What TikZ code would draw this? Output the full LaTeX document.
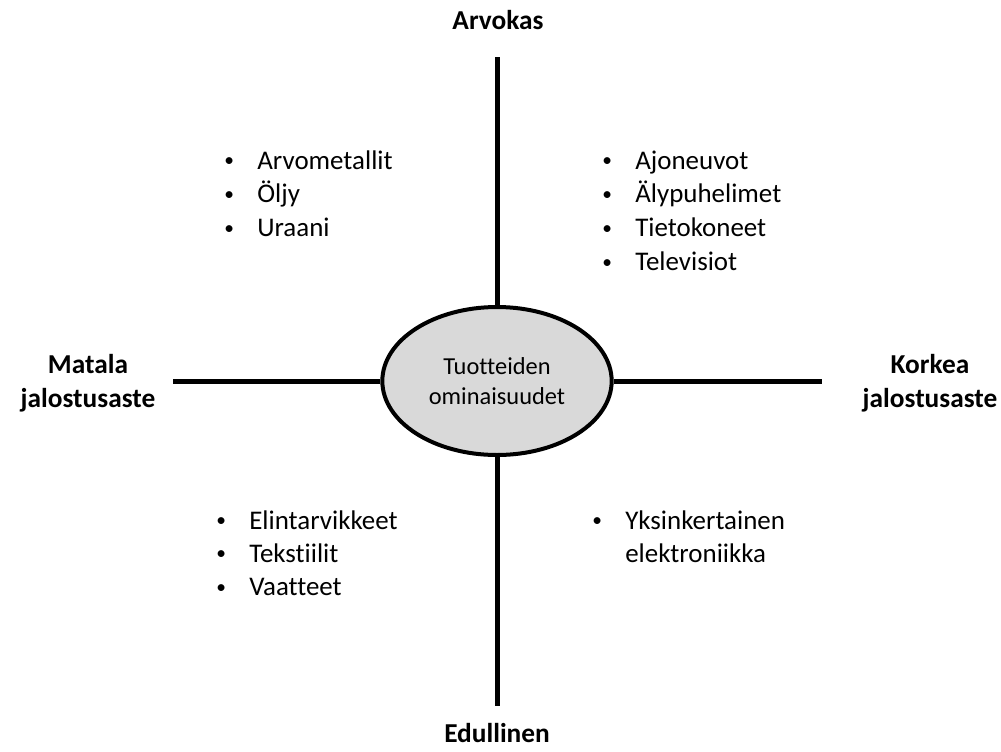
\documentclass[tikz,border=0pt]{standalone}
\usepackage{fontspec}
\setmainfont{Carlito}[Ligatures={NoCommon}]
\usetikzlibrary{shapes.geometric}
\definecolor{ellfill}{RGB}{217,217,217}
\newcommand{\bul}{\makebox[24.8pt][l]{\raisebox{1.8pt}{\scalebox{0.72}{•}}}}
\begin{document}
\begin{tikzpicture}[x=0.75pt,y=-0.75pt,
  axis/.style={line width=3.75pt},
  lbl/.style={font=\fontsize{20.5}{25.5}\selectfont\bfseries, align=center, inner sep=0},
  lst/.style={font=\fontsize{20.2}{25.4}\selectfont, inner sep=0, anchor=base west},
  lstb/.style={font=\fontsize{20.2}{25}\selectfont, inner sep=0, anchor=base west},
  hub/.style={ellipse, draw, line width=3pt, fill=ellfill, minimum width=172pt, minimum height=111pt, inner sep=0, align=center, font=\fontsize{18.3}{22.5}\selectfont}]
\useasboundingbox (0,0) rectangle (1001,751);
\fill[white] (0,0) rectangle (1001,751);
\coordinate (top) at (497,57);
\coordinate (bot) at (497,706);
\coordinate (lft) at (173,381);
\coordinate (rgt) at (822,381);
\node[hub] (c) at (497,381) {Tuotteiden\\ominaisuudet};
\draw[axis] (c.north) -- (top);
\draw[axis] (c.south) -- (bot);
\draw[axis] (c.west) -- (lft);
\draw[axis] (c.east) -- (rgt);
\node[lbl] (arv) at (498,20) {Arvokas};
\node[lbl] (edu) at (497,733) {Edullinen};
\node[lbl] (mat) at (88,383) {Matala\\jalostusaste};
\node[lbl] (kor) at (930,383) {Korkea\\jalostusaste};
\node[lst] (tl) at (224,169) {\begin{tabular}[t]{@{}l@{}l@{}}\bul&Arvometallit\\ \bul&Öljy\\ \bul&Uraani\end{tabular}};
\node[lst] (tr) at (602,169) {\begin{tabular}[t]{@{}l@{}l@{}}\bul&Ajoneuvot\\ \bul&Älypuhelimet\\ \bul&Tietokoneet\\ \bul&Televisiot\end{tabular}};
\node[lstb] (bl) at (216,529) {\begin{tabular}[t]{@{}l@{}l@{}}\bul&Elintarvikkeet\\ \bul&Tekstiilit\\ \bul&Vaatteet\end{tabular}};
\node[lstb] (br) at (592,529) {\begin{tabular}[t]{@{}l@{}l@{}}\bul&Yksinkertainen\\ &elektroniikka\end{tabular}};
\end{tikzpicture}
\end{document}
